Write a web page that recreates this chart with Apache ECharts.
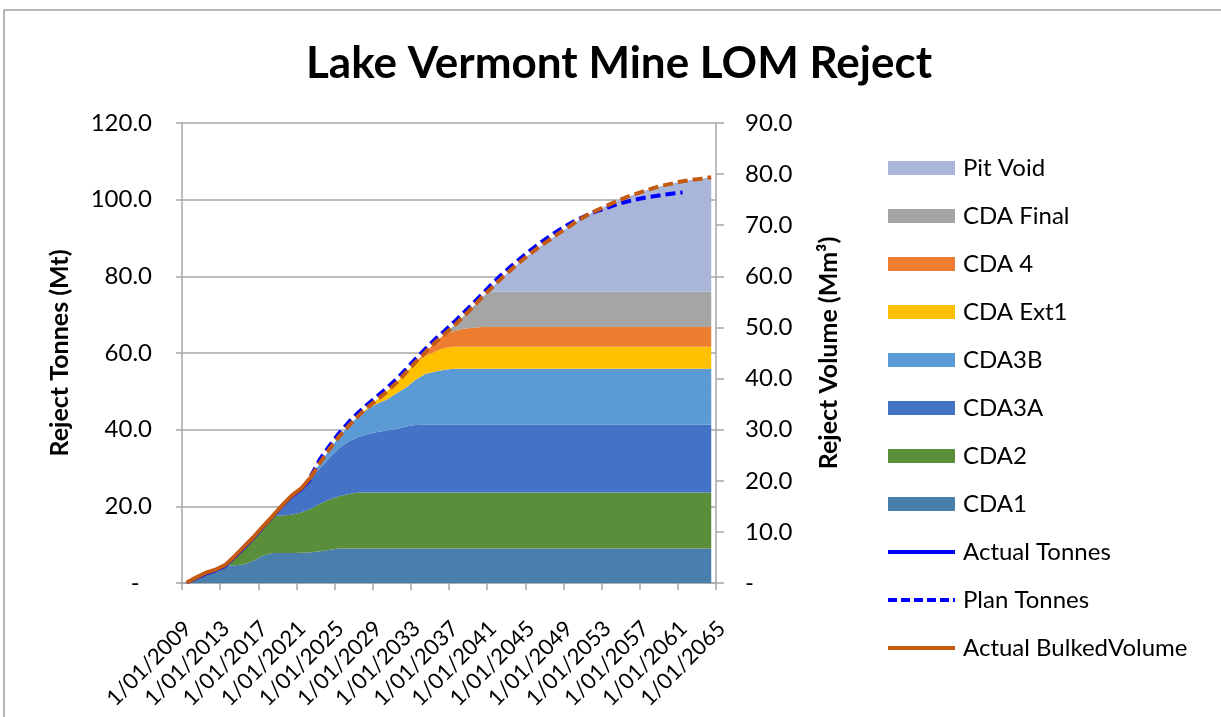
<!DOCTYPE html>
<html>
<head>
<meta charset="utf-8">
<title>Lake Vermont Mine LOM Reject</title>
<script src="https://cdn.jsdelivr.net/npm/echarts@6/dist/echarts.min.js"></script>
<style>
  html, body { margin: 0; padding: 0; background: #fff; }
  #chart { width: 1221px; height: 717px; }
</style>
</head>
<body>
<div id="chart"></div>
<script>
// one category per year; each point sits in the middle of its year
var years = ['2009', '2010', '2011', '2012', '2013', '2014', '2015', '2016', '2017', '2018',
  '2019', '2020', '2021', '2022', '2023', '2024', '2025', '2026', '2027', '2028',
  '2029', '2030', '2031', '2032', '2033', '2034', '2035', '2036', '2037', '2038',
  '2039', '2040', '2041', '2042', '2043', '2044', '2045', '2046', '2047', '2048',
  '2049', '2050', '2051', '2052', '2053', '2054', '2055', '2056', '2057', '2058',
  '2059', '2060', '2061', '2062', '2063', '2064'];
// date axis shown under the plot
var dateMin = 2009;
var dateMax = 2065;
var dateStep = 4;

// reject tonnes (Mt) per dump, stacked
var cda1 = [0.1, 1.5, 2.6, 3.5, 4.6, 4.6, 4.8, 5.8, 7.2, 7.8,
  7.8, 7.8, 7.9, 8.0, 8.3, 8.7, 9.0, 9.0, 9.0, 9.0,
  9.0, 9.0, 9.0, 9.0, 9.0, 9.0, 9.0, 9.0, 9.0, 9.0,
  9.0, 9.0, 9.0, 9.0, 9.0, 9.0, 9.0, 9.0, 9.0, 9.0,
  9.0, 9.0, 9.0, 9.0, 9.0, 9.0, 9.0, 9.0, 9.0, 9.0,
  9.0, 9.0, 9.0, 9.0, 9.0, 9.0];
var cda2 = [0, 0, 0, 0, 0, 2.3, 4.6, 6.2, 7.6, 9.7,
  9.8, 10.0, 10.5, 11.4, 12.4, 13.1, 13.6, 14.2, 14.6, 14.6,
  14.6, 14.6, 14.6, 14.6, 14.6, 14.6, 14.6, 14.6, 14.6, 14.6,
  14.6, 14.6, 14.6, 14.6, 14.6, 14.6, 14.6, 14.6, 14.6, 14.6,
  14.6, 14.6, 14.6, 14.6, 14.6, 14.6, 14.6, 14.6, 14.6, 14.6,
  14.6, 14.6, 14.6, 14.6, 14.6, 14.6];
var cda3a = [0, 0, 0, 0, 0, 0, 0, 0, 0, 0,
  2.7, 5.0, 6.2, 7.9, 9.3, 11.0, 12.6, 13.8, 14.5, 15.3,
  15.8, 16.2, 16.6, 17.2, 17.6, 17.7, 17.7, 17.7, 17.7, 17.7,
  17.7, 17.7, 17.7, 17.7, 17.7, 17.7, 17.7, 17.7, 17.7, 17.7,
  17.7, 17.7, 17.7, 17.7, 17.7, 17.7, 17.7, 17.7, 17.7, 17.7,
  17.7, 17.7, 17.7, 17.7, 17.7, 17.7];
var cda3b = [0, 0, 0, 0, 0, 0, 0, 0, 0, 0,
  0, 0, 0, 0.3, 1.4, 2.1, 3.0, 4.0, 5.4, 6.5,
  7.4, 8.1, 9.3, 10.2, 11.8, 13.2, 13.8, 14.3, 14.6, 14.6,
  14.6, 14.6, 14.6, 14.6, 14.6, 14.6, 14.6, 14.6, 14.6, 14.6,
  14.6, 14.6, 14.6, 14.6, 14.6, 14.6, 14.6, 14.6, 14.6, 14.6,
  14.6, 14.6, 14.6, 14.6, 14.6, 14.6];
var cdaExt1 = [0, 0, 0, 0, 0, 0, 0, 0, 0, 0,
  0, 0, 0, 0, 0, 0, 0, 0, 0.1, 0.4,
  1.1, 2.1, 2.8, 3.9, 4.6, 4.7, 5.2, 5.7, 5.7, 5.7,
  5.7, 5.7, 5.7, 5.7, 5.7, 5.7, 5.7, 5.7, 5.7, 5.7,
  5.7, 5.7, 5.7, 5.7, 5.7, 5.7, 5.7, 5.7, 5.7, 5.7,
  5.7, 5.7, 5.7, 5.7, 5.7, 5.7];
var cda4 = [0, 0, 0, 0, 0, 0, 0, 0, 0, 0,
  0, 0, 0, 0, 0, 0, 0, 0, 0, 0,
  0, 0, 0, 0, 0, 0.9, 2.3, 3.5, 4.1, 4.7,
  5.0, 5.2, 5.2, 5.2, 5.2, 5.2, 5.2, 5.2, 5.2, 5.2,
  5.2, 5.2, 5.2, 5.2, 5.2, 5.2, 5.2, 5.2, 5.2, 5.2,
  5.2, 5.2, 5.2, 5.2, 5.2, 5.2];
var cdaFinal = [0, 0, 0, 0, 0, 0, 0, 0, 0, 0,
  0, 0, 0, 0, 0, 0, 0, 0, 0, 0,
  0, 0, 0, 0, 0, 0, 0, 0, 1.4, 3.2,
  5.4, 7.8, 9.2, 9.2, 9.2, 9.2, 9.2, 9.2, 9.2, 9.2,
  9.2, 9.2, 9.2, 9.2, 9.2, 9.2, 9.2, 9.2, 9.2, 9.2,
  9.2, 9.2, 9.2, 9.2, 9.2, 9.2];
var pitVoid = [0, 0, 0, 0, 0, 0, 0, 0, 0, 0,
  0, 0, 0, 0, 0, 0, 0, 0, 0, 0,
  0, 0, 0, 0, 0, 0, 0, 0, 0, 0,
  0, 0, 1.1, 3.5, 5.7, 7.8, 9.8, 11.7, 13.5, 15.2,
  16.8, 18.5, 20.0, 21.2, 22.4, 23.5, 24.5, 25.4, 26.3, 27.0,
  27.7, 28.3, 28.8, 29.2, 29.5, 29.8];

// line series, each with its first year
var actualTonnesStart = 2009;
var actualTonnes = [0.0, 1.2, 2.3, 3.2, 4.3, 6.6, 9.1, 11.7, 14.5, 17.2, 20.0, 22.5, 24.3, 27.0];
var planTonnesStart = 2022;
var planTonnes = [27.8, 32.4, 35.9, 39.2, 42.0, 44.5, 46.7, 48.8, 50.9, 53.2,
  55.8, 58.5, 61.0, 63.5, 65.7, 68.0, 70.4, 72.9, 75.4, 78.0,
  80.4, 82.6, 84.7, 86.7, 88.6, 90.4, 92.0, 93.5, 94.8, 96.0,
  97.0, 97.8, 98.7, 99.4, 100.0, 100.5, 100.9, 101.3, 101.6, 101.9];
// bulked volume, Mm3 (right axis)
var actualVolumeStart = 2009;
var actualVolume = [0.1, 1.1, 2.0, 2.6, 3.5, 5.2, 7.1, 9.0, 11.1, 13.1, 15.2, 17.1, 18.5, 20.7];
var planVolumeStart = 2022;
var planVolume = [20.7, 23.6, 26.3, 28.7, 30.8, 32.7, 34.4, 35.9, 37.5, 39.2,
  41.2, 43.2, 45.1, 47.0, 48.6, 50.3, 52.1, 54.0, 56.0, 57.8,
  59.6, 61.3, 62.9, 64.4, 65.8, 67.1, 68.4, 69.6, 70.9, 72.0,
  72.9, 73.8, 74.6, 75.4, 76.1, 76.7, 77.3, 77.8, 78.2, 78.6,
  78.9, 79.1, 79.4];

function from(start, vals) {
  return vals.map(function (v, i) { return [String(start + i), v]; });
}

var FONT = 'Lato, "Open Sans", sans-serif';
var GRID_GREY = '#a6a6a6';

var areas = [
  { name: 'CDA1', data: cda1, color: '#4a7ead' },
  { name: 'CDA2', data: cda2, color: '#5b8e3b' },
  { name: 'CDA3A', data: cda3a, color: '#4472c4' },
  { name: 'CDA3B', data: cda3b, color: '#5b9bd5' },
  { name: 'CDA Ext1', data: cdaExt1, color: '#ffc000' },
  { name: 'CDA 4', data: cda4, color: '#ed7d31' },
  { name: 'CDA Final', data: cdaFinal, color: '#a5a5a5' },
  { name: 'Pit Void', data: pitVoid, color: '#a9b6da' }
];

var series = areas.map(function (a) {
  return {
    name: a.name,
    type: 'line',
    stack: 'reject',
    symbol: 'none',
    color: a.color,
    lineStyle: { width: 0 },
    areaStyle: { color: a.color, opacity: 1 },
    data: a.data
  };
});

series.push({
  name: 'Actual Tonnes', type: 'line', symbol: 'none', color: '#0000ff',
  lineStyle: { width: 3, color: '#0000ff' },
  data: from(actualTonnesStart, actualTonnes)
});
series.push({
  name: 'Plan Tonnes', type: 'line', symbol: 'none', color: '#0000ff',
  lineStyle: { width: 4, color: '#0000ff', type: [10, 5] },
  data: from(planTonnesStart, planTonnes)
});
series.push({
  name: 'Actual BulkedVolume', type: 'line', symbol: 'none', yAxisIndex: 1, color: '#c55a11',
  lineStyle: { width: 4, color: '#c55a11' },
  data: from(actualVolumeStart, actualVolume)
});
series.push({
  name: 'Plan BulkedVolume', type: 'line', symbol: 'none', yAxisIndex: 1, color: '#c55a11',
  lineStyle: { width: 4, color: '#c55a11', type: [10, 5] },
  data: from(planVolumeStart, planVolume)
});

// legend icons for the line entries: thin bar, and a dashed bar
var ICON_LINE = 'path://M0,0h67v4h-67z';
var ICON_DASH = 'path://M0,0h9v4h-9zM13,0h9v4h-9zM26,0h9v4h-9zM39,0h9v4h-9zM52,0h9v4h-9zM65,0h2v4h-2z';

var legendData = areas.slice().reverse().map(function (a) {
  return { name: a.name, icon: 'rect' };
}).concat([
  { name: 'Actual Tonnes', icon: ICON_LINE },
  { name: 'Plan Tonnes', icon: ICON_DASH },
  { name: 'Actual BulkedVolume', icon: ICON_LINE }
]);

function numFmt(pad) {
  return function (v) { return v === 0 ? (pad ? '-  ' : '-') : v.toFixed(1); };
}

var chart = echarts.init(document.getElementById('chart'));
chart.setOption({
  animation: false,
  backgroundColor: '#fff',
  title: {
    text: 'Lake Vermont Mine LOM Reject',
    left: 614, top: 37, textAlign: 'center',
    textStyle: { fontFamily: FONT, fontSize: 44, fontWeight: 'bold', color: '#000' }
  },
  graphic: [
    { type: 'polyline', silent: true,
      shape: { points: [[4, 717], [4, 10], [1221, 10]] },
      style: { stroke: '#a0a0a0', lineWidth: 1.5, fill: null } }
  ],
  legend: {
    orient: 'vertical', left: 883, top: 150,
    itemWidth: 67, itemHeight: 14, itemGap: 22,
    textStyle: { fontFamily: FONT, fontSize: 24, color: '#000', lineHeight: 26, padding: [0, 0, 0, 3] },
    data: legendData
  },
  grid: { left: 182, right: 505, top: 123, bottom: 134 },
  xAxis: [
    {
      type: 'category', data: years, boundaryGap: true, show: false
    },
    {
      type: 'value', min: dateMin, max: dateMax, interval: dateStep, position: 'bottom',
      axisLine: { show: true, onZero: false, lineStyle: { color: GRID_GREY, width: 1.5 } },
      axisTick: { show: true, length: 7, lineStyle: { color: GRID_GREY, width: 1.5 } },
      splitLine: { show: false },
      axisLabel: {
        rotate: 45, margin: 32, align: 'right', verticalAlign: 'top',
        padding: [0, 3, 0, 0],
        fontFamily: FONT, fontSize: 22, color: '#000',
        formatter: function (v) { return '1/01/' + v; }
      }
    }
  ],
  yAxis: [
    {
      type: 'value', min: 0, max: 120, interval: 20,
      name: 'Reject Tonnes (Mt)', nameLocation: 'middle', nameGap: 110,
      nameTextStyle: { fontFamily: FONT, fontSize: 25, fontWeight: 'bold', color: '#000' },
      axisLine: { show: true, lineStyle: { color: GRID_GREY, width: 1.5 } },
      axisTick: { show: true, length: 6, lineStyle: { color: GRID_GREY, width: 1.5 } },
      splitLine: { show: true, lineStyle: { color: GRID_GREY, width: 1.5 } },
      axisLabel: { margin: 30, fontFamily: FONT, fontSize: 24, color: '#000', formatter: numFmt(true) }
    },
    {
      type: 'value', min: 0, max: 90, interval: 10, position: 'right',
      name: 'Reject Volume (Mm³)', nameLocation: 'middle', nameGap: 100,
      nameTextStyle: { fontFamily: FONT, fontSize: 25, fontWeight: 'bold', color: '#000' },
      axisLine: { show: true, lineStyle: { color: GRID_GREY, width: 1.5 } },
      axisTick: { show: true, length: 8, lineStyle: { color: GRID_GREY, width: 1.5 } },
      splitLine: { show: false },
      axisLabel: { margin: 29, fontFamily: FONT, fontSize: 24, color: '#000', formatter: numFmt(false) }
    }
  ],
  series: series
});
</script>
</body>
</html>
